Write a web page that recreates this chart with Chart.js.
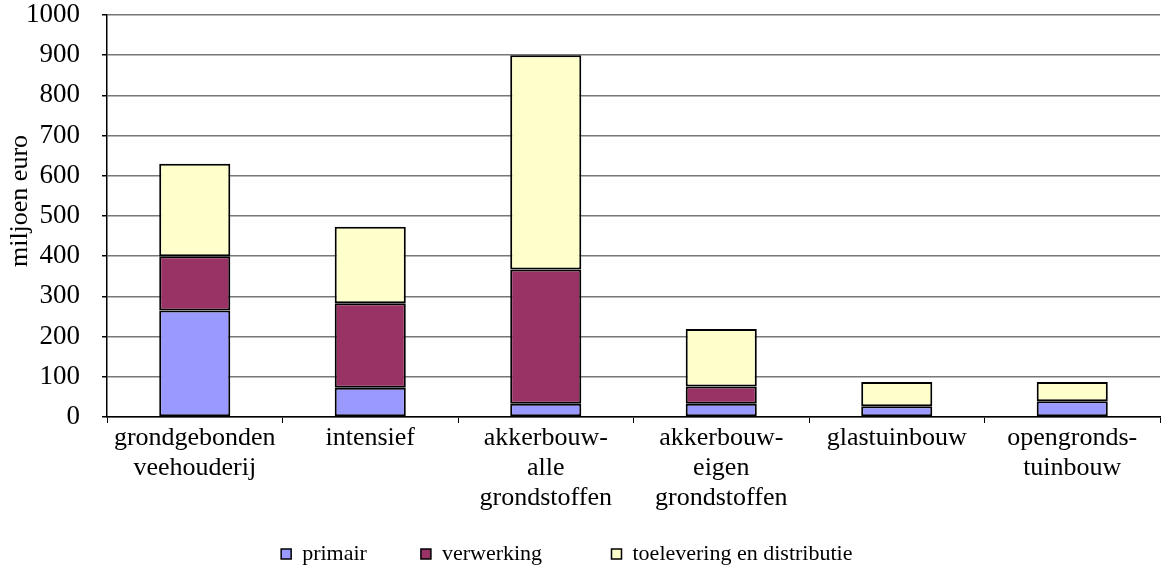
<!DOCTYPE html>
<html>
<head>
<meta charset="utf-8">
<script src="https://cdn.jsdelivr.net/npm/chart.js@4/dist/chart.umd.min.js"></script>
<style>
  html, body { margin: 0; padding: 0; background: #fff; }
  #wrap { width: 1162px; height: 568px; position: relative; }
</style>
</head>
<body>
<div id="wrap"><canvas id="c"></canvas></div>
<script>
const categories = [
  ["grondgebonden", "veehouderij"],
  ["intensief"],
  ["akkerbouw-", "alle", "grondstoffen"],
  ["akkerbouw-", "eigen", "grondstoffen"],
  ["glastuinbouw"],
  ["opengronds-", "tuinbouw"]
];
const primair = [265, 73, 33, 33, 27, 39];
const verwerking = [135, 210, 334, 43, 0, 0];
const toelevering = [230, 190, 533, 143, 60, 48];
const yTicks = [0, 100, 200, 300, 400, 500, 600, 700, 800, 900, 1000];
const yTitle = "miljoen euro";
const legendGaps = ["\u2003\u2003", "\u2003\u2003\u2002\u2009", "\u2003\u2009"];

const FONT = "'Liberation Serif', 'Times New Roman', serif";

const titlePlugin = {
  id: 'yTitle',
  afterDraw(chart) {
    const ctx = chart.ctx;
    ctx.save();
    ctx.font = "26px " + FONT;
    ctx.fillStyle = "#000";
    ctx.textAlign = "center";
    ctx.textBaseline = "middle";
    ctx.translate(20, 201);
    ctx.rotate(-Math.PI / 2);
    ctx.fillText(yTitle, 0, 0);
    ctx.restore();
  }
};

const ds = (label, data, color) => ({
  label,
  data: data.map(v => (v === 0 ? null : v)),
  backgroundColor: color,
  borderColor: "#000",
  borderWidth: 2,
  borderSkipped: false,
  barPercentage: 0.81,
  categoryPercentage: 0.5
});

new Chart(document.getElementById('c'), {
  type: 'bar',
  data: {
    labels: categories,
    datasets: [
      ds("primair", primair, "#9999ff"),
      ds("verwerking", verwerking, "#993366"),
      ds("toelevering en distributie", toelevering, "#ffffcc")
    ]
  },
  options: {
    responsive: true,
    maintainAspectRatio: false,
    animation: false,
    layout: { padding: { top: 15, right: 2, left: 0, bottom: -7 } },
    plugins: {
      tooltip: { enabled: false },
      legend: {
        position: 'bottom',
        labels: {
          font: { family: FONT, size: 22, lineHeight: 0.5 },
          color: "#000",
          boxWidth: 10,
          boxHeight: 10,
          padding: 10,
          generateLabels(chart) {
            const items = Chart.defaults.plugins.legend.labels.generateLabels(chart);
            items.forEach((it, i) => {
              it.lineWidth = 1.5;
              it.text = it.text + legendGaps[i];
            });
            return items;
          }
        }
      }
    },
    scales: {
      x: {
        stacked: true,
        grid: { offset: true, drawOnChartArea: false, tickLength: 6, tickColor: "#000" },
        border: { color: "#000", width: 1.5 },
        ticks: {
          font: { family: FONT, size: 26, lineHeight: 1.15 },
          color: "#000",
          maxRotation: 0,
          autoSkip: false,
          padding: 0
        },
        afterFit(scale) { scale.height = 116; }
      },
      y: {
        stacked: true,
        min: 0, max: 1000,
        afterBuildTicks(scale) { scale.ticks = yTicks.map(v => ({ value: v })); },
        grid: { color: "#777", lineWidth: 1.5, tickLength: 5, tickColor: "#000" },
        border: { color: "#000", width: 1.5 },
        ticks: {
          font: { family: FONT, size: 27 },
          color: "#000",
          padding: 22,
          callback: (v) => String(v)
        },
        afterFit(scale) {
          scale.width = 107;
          scale.paddingTop = 0;
          scale.paddingBottom = 0;
        }
      }
    }
  },
  plugins: [titlePlugin]
});
</script>
</body>
</html>
